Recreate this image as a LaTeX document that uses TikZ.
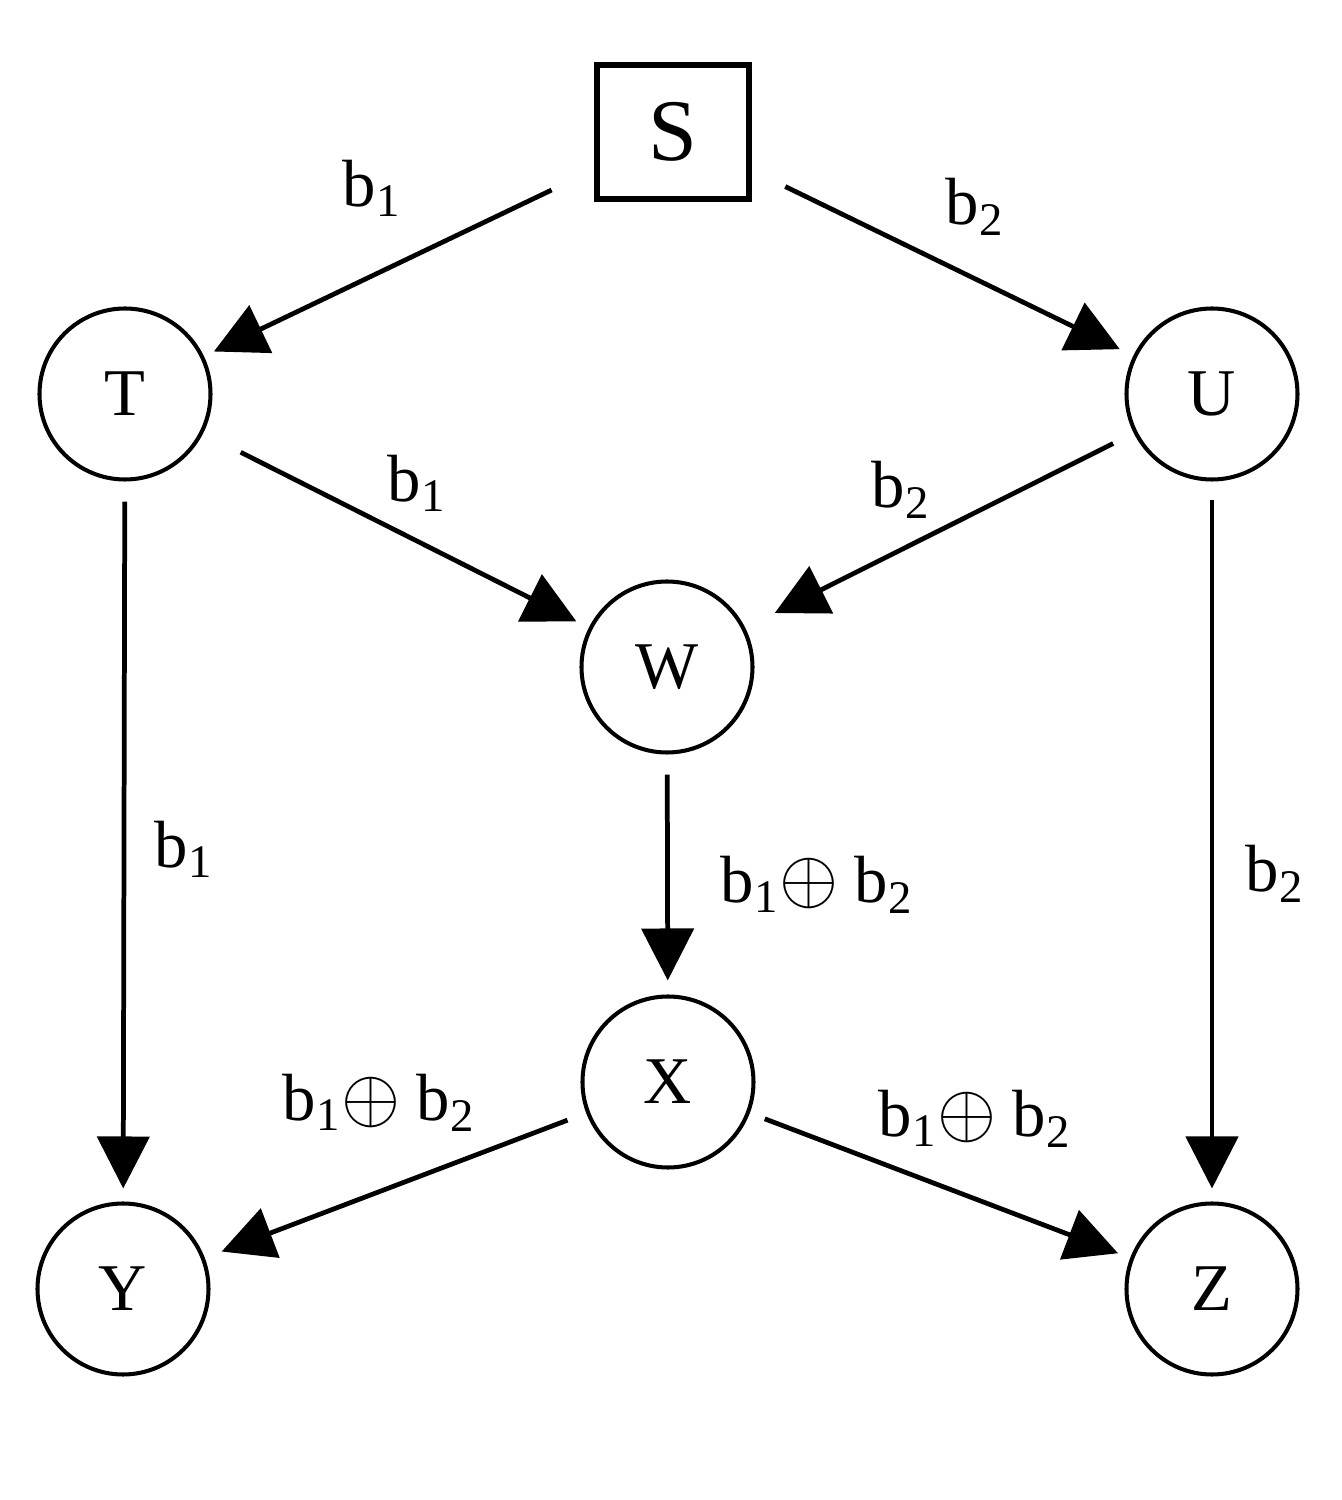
\documentclass[tikz,border=0pt]{standalone}
\usepackage{fontspec}
\setmainfont{Liberation Serif}
\usepackage{tikz}
\usetikzlibrary{arrows.meta}
\definecolor{DarkText}{HTML}{000000}
\tikzset{
  vtx/.style={circle, draw=DarkText, line width=1.15pt, minimum size=1.71cm, inner sep=0pt, font=\fontsize{19}{23}\selectfont},
  srcbox/.style={rectangle, draw=DarkText, line width=1.7pt, minimum width=1.52cm, minimum height=1.34cm, inner sep=0pt, font=\fontsize{25}{30}\selectfont},
  lbl/.style={anchor=base west, inner sep=0pt, font=\fontsize{19}{23}\selectfont},
  arr/.style={-{Triangle[length=5.2mm, width=5.2mm]}, line width=1.35pt, draw=DarkText, shorten >=1.3mm, shorten <=2mm}
}
\newcommand{\xorlbl}{b\textsubscript{1}\scalebox{1.25}{$\oplus$} b\textsubscript{2}}
\begin{document}
\begin{tikzpicture}
\useasboundingbox (0,0) rectangle (13.42,15);
\node[srcbox] (S) at (6.73,13.68) {S};
\node[vtx] (T) at (1.25,11.06) {T};
\node[vtx] (U) at (12.12,11.06) {U};
\node[vtx] (W) at (6.67,8.33) {W};
\node[vtx] (X) at (6.68,4.18) {X};
\node[vtx] (Y) at (1.23,2.11) {Y};
\node[vtx] (Z) at (12.12,2.11) {Z};
\draw[arr, shorten <=4.7mm, shorten >=1.1mm] (S) -- (T);
\draw[arr, shorten <=3.7mm, shorten >=1.5mm] (S) -- (U);
\draw[arr, shorten <=4.2mm, shorten >=1.4mm] (T) -- (W);
\draw[arr, shorten <=2.3mm, shorten >=3.3mm] (U) -- (W);
\draw[arr] (T) -- (Y);
\draw[arr, shorten <=1.8mm] (U) -- (Z);
\draw[arr, shorten >=1.4mm] (W) -- (X);
\draw[arr, shorten >=1.8mm] (X) -- (Y);
\draw[arr, shorten <=1.6mm] (X) -- (Z);
\node[lbl] (lST) at (3.42,12.93) {b\textsubscript{1}};
\node[lbl] (lSU) at (9.45,12.75) {b\textsubscript{2}};
\node[lbl] (lTW) at (3.87,9.98) {b\textsubscript{1}};
\node[lbl] (lUW) at (8.71,9.92) {b\textsubscript{2}};
\node[lbl] (lTY) at (1.54,6.32) {b\textsubscript{1}};
\node[lbl] (lWX) at (7.20,5.97) {\xorlbl};
\node[lbl] (lUZ) at (12.45,6.08) {b\textsubscript{2}};
\node[lbl] (lXY) at (2.82,3.79) {\xorlbl};
\node[lbl] (lXZ) at (8.78,3.63) {\xorlbl};
\end{tikzpicture}
\end{document}
